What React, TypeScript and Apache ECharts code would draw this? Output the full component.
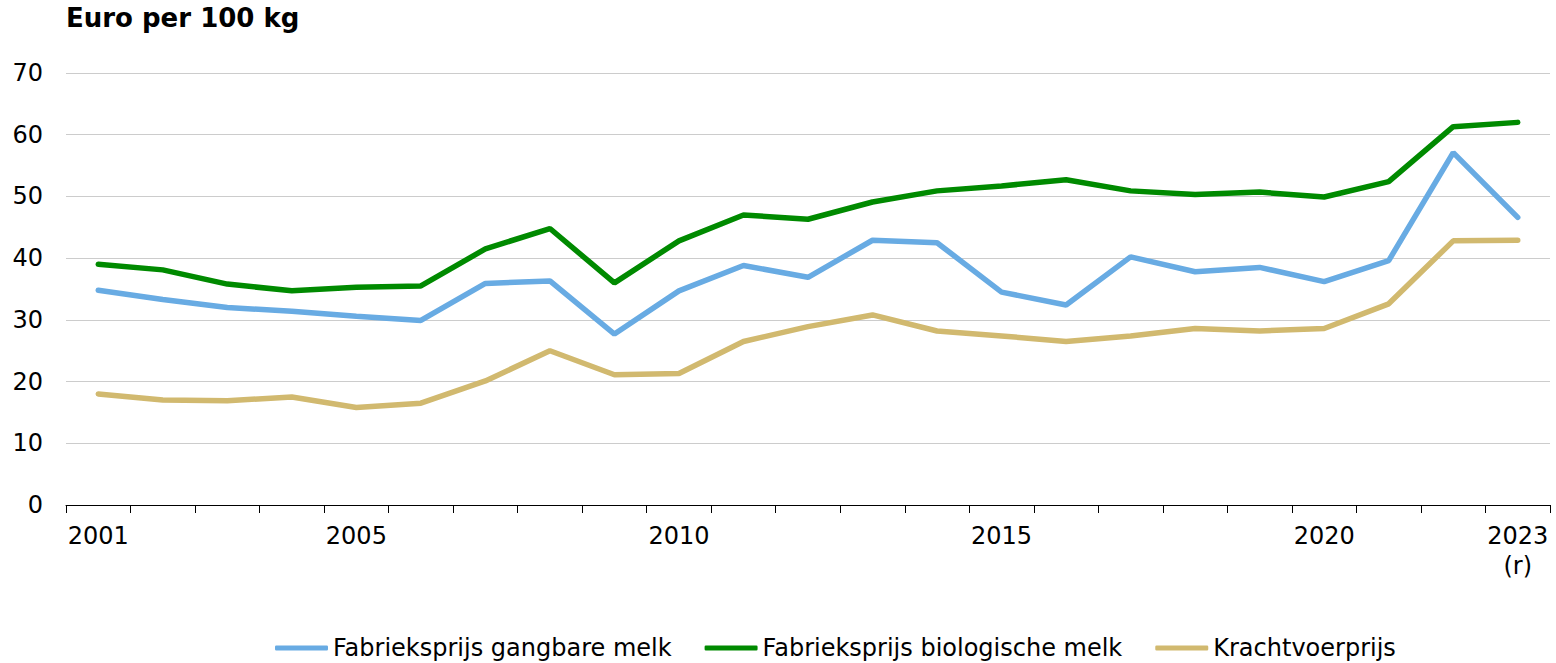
import React, { useEffect, useRef } from "react";
import * as echarts from "echarts";

const years = [
  "2001", "2002", "2003", "2004", "2005", "2006", "2007", "2008", "2009", "2010",
  "2011", "2012", "2013", "2014", "2015", "2016", "2017", "2018", "2019", "2020",
  "2021", "2022", "2023\n(r)",
];
const shownLabels = [0, 4, 9, 14, 19, 22];

const gangbare = [
  34.8, 33.3, 32.0, 31.4, 30.6, 29.9, 35.9, 36.3, 27.7, 34.7,
  38.8, 36.9, 42.9, 42.5, 34.5, 32.4, 40.2, 37.8, 38.5, 36.2,
  39.6, 57.1, 46.6,
];
const biologische = [
  39.0, 38.1, 35.8, 34.7, 35.3, 35.5, 41.5, 44.8, 36.0, 42.8,
  47.0, 46.3, 49.1, 50.9, 51.7, 52.7, 50.9, 50.3, 50.7, 49.9,
  52.4, 61.3, 62.0,
];
const krachtvoer = [
  18.0, 17.0, 16.9, 17.5, 15.8, 16.5, 20.1, 25.0, 21.1, 21.3,
  26.5, 28.9, 30.8, 28.2, 27.4, 26.5, 27.4, 28.6, 28.2, 28.6,
  32.6, 42.8, 42.9,
];

const seriesNames = [
  "Fabrieksprijs gangbare melk",
  "Fabrieksprijs biologische melk",
  "Krachtvoerprijs",
];
const colors = ["#68abe3", "#008a00", "#d1b96f"];

const FONT = "DejaVu Sans, Verdana, sans-serif";

export default function App() {
  const ref = useRef<HTMLDivElement>(null);
  useEffect(() => {
    if (!ref.current) return;
    const chart = echarts.init(ref.current, null, { renderer: "svg" });
    const data = [gangbare, biologische, krachtvoer];
    chart.setOption({
      animation: false,
      title: {
        text: "Euro per 100 kg",
        left: 66,
        top: 5,
        padding: 0,
        textStyle: { fontFamily: FONT, fontWeight: "bold", fontSize: 26, color: "#000" },
      },
      legend: {
        top: 636,
        left: 275,
        padding: 0,
        itemWidth: 53,
        itemHeight: 5,
        itemGap: 33,
        icon: "roundRect",
        textStyle: { fontFamily: FONT, fontSize: 24, color: "#000" },
        data: seriesNames,
      },
      grid: { left: 66, right: 6, top: 73, bottom: 158, containLabel: false },
      xAxis: {
        type: "category",
        data: years,
        boundaryGap: true,
        axisLine: { lineStyle: { color: "#000", width: 1 } },
        axisTick: { show: true, interval: 0, length: 8, lineStyle: { color: "#000" } },
        axisLabel: {
          interval: (i: number) => shownLabels.includes(i),
          fontFamily: FONT,
          fontSize: 24,
          color: "#000",
          margin: 16,
          lineHeight: 30,
        },
      },
      yAxis: {
        type: "value",
        min: 0,
        max: 70,
        interval: 10,
        axisLine: { show: false },
        axisTick: { show: false },
        splitLine: { lineStyle: { color: "#cccccc", width: 1 } },
        axisLabel: { fontFamily: FONT, fontSize: 24, color: "#000", margin: 23 },
      },
      series: seriesNames.map((name, i) => ({
        name,
        type: "line",
        data: data[i],
        showSymbol: false,
        symbol: "none",
        color: colors[i],
        lineStyle: { width: 5.5, color: colors[i], cap: "round" },
        emphasis: { disabled: true },
      })),
    });
    return () => chart.dispose();
  }, []);
  return (
    <div
      ref={ref}
      style={{ position: "absolute", left: 0, top: 0, width: 1556, height: 663 }}
    />
  );
}
